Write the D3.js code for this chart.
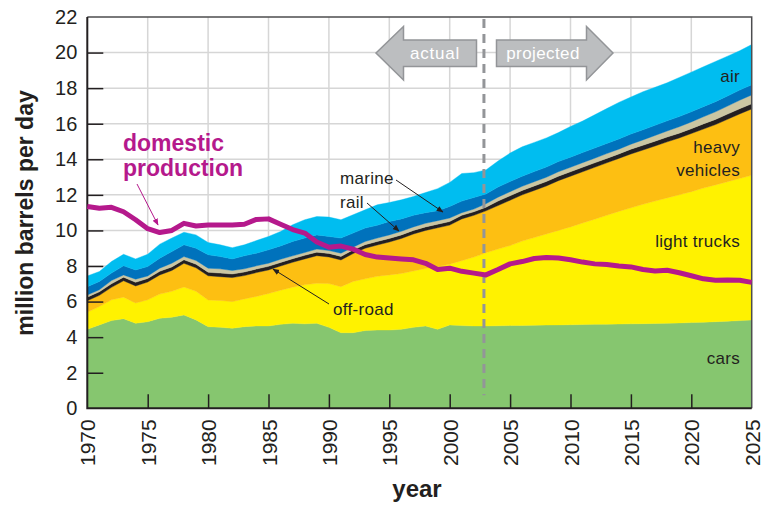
<!DOCTYPE html>
<html>
<head>
<meta charset="utf-8" />
<title>Transportation oil use</title>
<style>
html, body {
    margin: 0px;
    padding: 0px;
    background: #fff;
}
svg text {
    font-family: "Liberation Sans", Arial, sans-serif;
}
.lbl {
    font-size: 17px;
    letter-spacing: 0.3px;
    fill: #231f20;
}
</style>
</head>
<body>
<div id="graph"></div>
<script src="https://cdnjs.cloudflare.com/ajax/libs/d3/7.8.5/d3.min.js"></script>
<script>
// years 1970..2025, actual up to 2003 then projected
var years = d3.range(1970, 2026)

var cars = [4.44,4.69,4.93,5.04,4.78,4.87,5.06,5.12,5.25,4.97,4.59,4.56,4.50,4.59,4.63,4.63,4.72,4.78,4.75,4.78,
    4.55,4.25,4.25,4.37,4.40,4.40,4.44,4.55,4.63,4.44,4.69,4.65,4.63,4.63,
    4.64,4.65,4.66,4.67,4.68,4.69,4.70,4.71,4.72,4.73,4.74,4.75,4.76,4.77,4.78,4.80,4.82,4.84,4.87,4.90,4.93,4.97]
var lightTrucks = [0.96,1.03,1.17,1.21,1.14,1.23,1.36,1.46,1.57,1.61,1.50,1.50,1.50,1.56,1.66,1.82,1.92,2.03,2.19,2.25,
    2.46,2.59,2.88,2.91,3.02,3.10,3.14,3.17,3.23,3.53,3.41,3.65,3.87,4.12,
    4.31,4.50,4.74,4.93,5.12,5.31,5.50,5.71,5.91,6.12,6.33,6.52,6.71,6.88,7.05,7.20,7.36,7.54,7.69,7.84,7.99,8.13]
var heavyVehicles = [0.65,0.63,0.70,0.92,0.96,1.00,1.08,1.17,1.33,1.32,1.36,1.34,1.35,1.31,1.34,1.33,1.36,1.40,1.46,1.55,
    1.50,1.50,1.57,1.72,1.76,1.85,1.97,2.08,2.14,2.18,2.20,2.35,2.35,2.35,
    2.45,2.55,2.60,2.65,2.70,2.80,2.85,2.88,2.92,2.95,2.98,3.03,3.05,3.10,3.15,3.20,3.27,3.32,3.39,3.51,3.63,3.73]
var offRoad = [0.20,0.20,0.20,0.20,0.20,0.20,0.20,0.20,0.20,0.20,0.20,0.20,0.20,0.20,0.20,0.20,0.20,0.20,0.20,0.20,
    0.20,0.20,0.20,0.20,0.20,0.20,0.20,0.20,0.20,0.20,0.20,0.20,0.20,0.20,
    0.25,0.25,0.25,0.25,0.25,0.25,0.25,0.25,0.25,0.25,0.25,0.27,0.27,0.27,0.27,0.27,0.27,0.29,0.29,0.29,0.29,0.29]
var rail = [0.12,0.12,0.18,0.13,0.18,0.14,0.18,0.21,0.18,0.21,0.23,0.24,0.20,0.18,0.18,0.18,0.18,0.16,0.16,0.17,
    0.16,0.18,0.16,0.18,0.19,0.20,0.20,0.20,0.20,0.20,0.20,0.15,0.15,0.20,
    0.22,0.23,0.23,0.24,0.24,0.25,0.25,0.26,0.26,0.27,0.27,0.28,0.30,0.32,0.34,0.36,0.38,0.40,0.43,0.45,0.48,0.50]
var marine = [0.47,0.46,0.42,0.51,0.52,0.53,0.56,0.65,0.66,0.69,0.75,0.69,0.65,0.73,0.71,0.75,0.75,0.81,0.81,0.80,
    0.79,0.85,0.79,0.75,0.72,0.75,0.70,0.65,0.60,0.55,0.65,0.65,0.65,0.55,
    0.57,0.57,0.57,0.57,0.57,0.57,0.57,0.57,0.57,0.57,0.57,0.57,0.57,0.57,0.57,0.57,0.57,0.57,0.57,0.57,0.57,0.57]
var air = [0.60,0.56,0.65,0.65,0.62,0.69,0.79,0.76,0.71,0.75,0.69,0.66,0.63,0.62,0.71,0.75,0.81,0.94,1.03,1.03,
    1.09,1.03,1.03,1.03,1.15,1.07,1.07,1.06,1.13,1.25,1.35,1.55,1.40,1.35,
    1.46,1.60,1.65,1.64,1.64,1.63,1.73,1.77,1.87,1.96,2.06,2.08,2.14,2.14,2.14,2.20,2.23,2.24,2.26,2.24,2.21,2.26]
var domestic = [11.35,11.25,11.3,11.05,10.6,10.1,9.88,10.0,10.4,10.25,10.3,10.3,10.3,10.35,10.62,10.65,10.35,10.05,9.85,9.35,
    9.05,9.12,8.95,8.65,8.5,8.45,8.4,8.35,8.15,7.8,7.88,7.7,7.6,7.5,7.8,8.12,8.25,8.42,8.48,8.45,
    8.35,8.22,8.12,8.08,8.0,7.95,7.8,7.72,7.76,7.62,7.45,7.28,7.2,7.22,7.2,7.08]

var layerKeys = ["cars", "lightTrucks", "heavyVehicles", "offRoad", "rail", "marine", "air"]
var layerColors = ["#86c66f", "#fff200", "#fdbf12", "#231f20", "#cbc6a2", "#0072bc", "#00bdf0"]
var series = {cars: cars, lightTrucks: lightTrucks, heavyVehicles: heavyVehicles, offRoad: offRoad, rail: rail, marine: marine, air: air}

var yTicks = d3.range(0, 23, 2)
var xTicks = d3.range(1970, 2026, 5)
var splitYear = 2003

var width = 767, height = 505
var margin = {top: 17, right: 15.3, bottom: 96.7, left: 87.3}

var svg = d3.select("#graph").append("svg")
    .attr("width", width).attr("height", height)

var x = d3.scaleLinear().domain([1970, 2025]).range([margin.left, width - margin.right])
var y = d3.scaleLinear().domain([0, 22]).range([height - margin.bottom, margin.top])

// grid
var grid = svg.append("g").attr("stroke", "#d6d6d6").attr("stroke-width", 1.5)
grid.selectAll(".gx").data(xTicks.slice(1, -1)).enter().append("line")
    .attr("x1", function(d) { return x(d) }).attr("x2", function(d) { return x(d) })
    .attr("y1", y(0)).attr("y2", y(22))
grid.selectAll(".gy").data(yTicks.slice(1, -1)).enter().append("line")
    .attr("y1", function(d) { return y(d) }).attr("y2", function(d) { return y(d) })
    .attr("x1", x(1970)).attr("x2", x(2025))

// stacked areas
var table = years.map(function(yr, i) {
    var row = {year: yr}
    layerKeys.forEach(function(k) { row[k] = series[k][i] })
    return row
})
var stacked = d3.stack().keys(layerKeys)(table)
var area = d3.area()
    .x(function(d) { return x(d.data.year) })
    .y0(function(d) { return y(d[0]) })
    .y1(function(d) { return y(d[1]) })

svg.append("g").selectAll("path").data(stacked).enter().append("path")
    .attr("d", area)
    .attr("fill", function(d, i) { return layerColors[i] })
    .attr("stroke", function(d, i) { return layerColors[i] })
    .attr("stroke-width", 0.4)

// frame top/right
svg.append("path")
    .attr("d", "M" + x(1970) + "," + y(22) + "H" + x(2025) + "V" + y(0))
    .attr("fill", "none").attr("stroke", "#4d4d4f").attr("stroke-width", 1.5)

// split line
svg.append("line")
    .attr("x1", x(splitYear) - 2).attr("x2", x(splitYear) - 2)
    .attr("y1", y(22) + 2).attr("y2", y(0) - 13)
    .attr("stroke", "#939598").attr("stroke-width", 3).attr("stroke-dasharray", "9,6")

// axes
var yAxis = svg.append("g").attr("transform", "translate(" + x(1970) + ",0)")
    .call(d3.axisLeft(y).tickValues(yTicks).tickSize(-16).tickPadding(10))
yAxis.select(".domain").remove()
yAxis.selectAll(".tick line").attr("stroke", "#231f20").attr("stroke-width", 1.5)
yAxis.selectAll(".tick text").style("font-size", "20px").attr("fill", "#231f20")
yAxis.selectAll(".tick").filter(function(d) { return d === 0 || d === 22 }).select("line").remove()

var xAxis = svg.append("g").attr("transform", "translate(0," + y(0) + ")")
    .call(d3.axisBottom(x).tickValues(xTicks).tickSize(-14).tickFormat(d3.format("d")))
xAxis.select(".domain").remove()
xAxis.selectAll(".tick line").attr("stroke", "#231f20").attr("stroke-width", 1.5)
xAxis.selectAll(".tick").filter(function(d) { return d === 1970 || d === 2025 }).select("line").remove()
xAxis.selectAll(".tick text")
    .attr("transform", "rotate(-90)")
    .attr("x", -11).attr("y", 0).attr("dy", "0.36em")
    .style("text-anchor", "end").style("font-size", "21px").attr("fill", "#231f20")

svg.append("path")
    .attr("d", "M" + x(1970) + "," + y(22) + "V" + y(0) + "H" + x(2025))
    .attr("fill", "none").attr("stroke", "#231f20").attr("stroke-width", 2)

// domestic production
var line = d3.line()
    .x(function(d, i) { return x(years[i]) })
    .y(function(d) { return y(d) })
svg.append("path").datum(domestic)
    .attr("d", line)
    .attr("fill", "none").attr("stroke", "#b5198c").attr("stroke-width", 5)
    .attr("stroke-linejoin", "round")

// arrow markers
var defs = svg.append("defs")
defs.append("marker").attr("id", "ah").attr("viewBox", "0 0 10 10")
    .attr("refX", 9).attr("refY", 5).attr("markerWidth", 7).attr("markerHeight", 7)
    .attr("orient", "auto").append("path").attr("d", "M0,1L10,5L0,9Z").attr("fill", "#231f20")
defs.append("marker").attr("id", "ahm").attr("viewBox", "0 0 10 10")
    .attr("refX", 9).attr("refY", 5).attr("markerWidth", 7).attr("markerHeight", 7)
    .attr("orient", "auto").append("path").attr("d", "M0,1L10,5L0,9Z").attr("fill", "#b5198c")

// actual / projected arrows
var yMid = 53
svg.append("path")
    .attr("d", "M376," + yMid + "L403.5,26.5V40H476.5V66.5H403.5V80Z")
    .attr("fill", "#bcbec0").attr("stroke", "#939598").attr("stroke-width", 1.5)
svg.append("path")
    .attr("d", "M613," + yMid + "L586.5,26.5V40H496.5V66.5H586.5V80Z")
    .attr("fill", "#bcbec0").attr("stroke", "#939598").attr("stroke-width", 1.5)
svg.append("text").attr("class", "lbl").attr("x", 435).attr("y", yMid + 6)
    .attr("text-anchor", "middle").style("fill", "#fff").style("letter-spacing", "0.8px").text("actual")
svg.append("text").attr("class", "lbl").attr("x", 543).attr("y", yMid + 6)
    .attr("text-anchor", "middle").style("fill", "#fff").style("letter-spacing", "0.4px").text("projected")

// layer labels
var labels = [
    {t: "air", x: 740, y: 82},
    {t: "heavy", x: 740, y: 153},
    {t: "vehicles", x: 740, y: 176},
    {t: "light trucks", x: 740, y: 247},
    {t: "cars", x: 740, y: 364}
]
svg.selectAll(".ll").data(labels).enter().append("text")
    .attr("class", "lbl").attr("x", function(d) { return d.x }).attr("y", function(d) { return d.y })
    .attr("text-anchor", "end").text(function(d) { return d.t })

var callouts = [
    {t: "marine", tx: 340, ty: 184, x1: 396, y1: 180, x2: 443, y2: 212},
    {t: "rail", tx: 340, ty: 208, x1: 367, y1: 203, x2: 399, y2: 231},
    {t: "off-road", tx: 333, ty: 315, x1: 329, y1: 304, x2: 273, y2: 269}
]
callouts.forEach(function(c) {
    svg.append("text").attr("class", "lbl").attr("x", c.tx).attr("y", c.ty).text(c.t)
    svg.append("line").attr("x1", c.x1).attr("y1", c.y1).attr("x2", c.x2).attr("y2", c.y2)
        .attr("stroke", "#231f20").attr("stroke-width", 1).attr("marker-end", "url(#ah)")
})

svg.append("text").attr("x", 123).attr("y", 151)
    .style("font-size", "23px").style("font-weight", "bold").attr("fill", "#b5198c").text("domestic")
svg.append("text").attr("x", 123).attr("y", 176)
    .style("font-size", "23px").style("font-weight", "bold").attr("fill", "#b5198c").text("production")
svg.append("line").attr("x1", 137).attr("y1", 184).attr("x2", 158).attr("y2", 225)
    .attr("stroke", "#b5198c").attr("stroke-width", 1).attr("marker-end", "url(#ahm)")

// axis titles
svg.append("text")
    .attr("transform", "translate(33," + 213 + ") rotate(-90)")
    .attr("text-anchor", "middle")
    .style("font-size", "23px").style("font-weight", "bold").attr("fill", "#231f20")
    .text("million barrels per day")
svg.append("text").attr("x", 417).attr("y", 497)
    .attr("text-anchor", "middle")
    .style("font-size", "24px").style("font-weight", "bold").attr("fill", "#231f20")
    .text("year")
</script>
</body>
</html>
